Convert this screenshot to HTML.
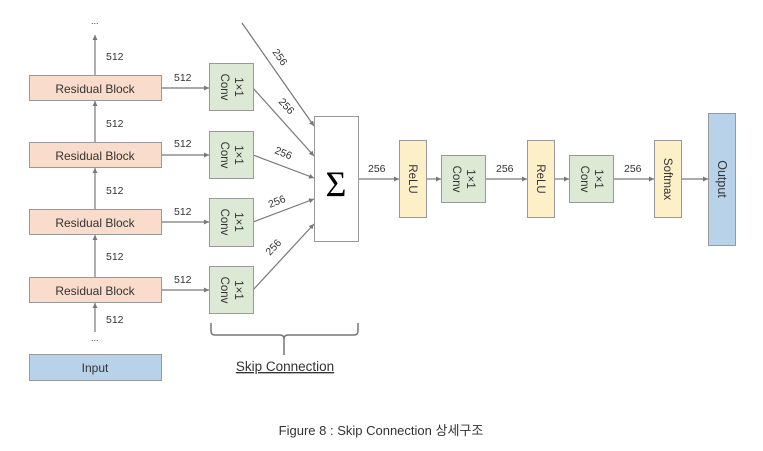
<!DOCTYPE html>
<html><head><meta charset="utf-8"><style>
html,body{margin:0;padding:0;background:#fff;width:763px;height:451px;overflow:hidden}
svg text{font-family:"Liberation Sans","Noto Sans CJK KR",sans-serif;fill:#333}
</style></head><body>
<svg width="763" height="451" viewBox="0 0 763 451" xmlns="http://www.w3.org/2000/svg">
<defs><marker id="a" markerWidth="6" markerHeight="6" refX="5" refY="3" orient="auto" markerUnits="userSpaceOnUse"><path d="M0,0.5 L5,3 L0,5.5z" fill="#777"/></marker></defs>
<g stroke="#777" stroke-width="1.2" fill="none">
<line x1="95" y1="75" x2="95" y2="35" marker-end="url(#a)"/>
<line x1="95" y1="142" x2="95" y2="101" marker-end="url(#a)"/>
<line x1="95" y1="209" x2="95" y2="168" marker-end="url(#a)"/>
<line x1="95" y1="277" x2="95" y2="235" marker-end="url(#a)"/>
<line x1="95" y1="332" x2="95" y2="303" marker-end="url(#a)"/>
<line x1="161" y1="88" x2="209" y2="88" marker-end="url(#a)"/>
<line x1="161" y1="155" x2="209" y2="155" marker-end="url(#a)"/>
<line x1="161" y1="222" x2="209" y2="222" marker-end="url(#a)"/>
<line x1="161" y1="290" x2="209" y2="290" marker-end="url(#a)"/>
<line x1="242" y1="23" x2="314" y2="126" marker-end="url(#a)"/>
<line x1="253" y1="88" x2="314" y2="156" marker-end="url(#a)"/>
<line x1="253" y1="155" x2="314" y2="178" marker-end="url(#a)"/>
<line x1="253" y1="222" x2="314" y2="199" marker-end="url(#a)"/>
<line x1="253" y1="290" x2="314" y2="224" marker-end="url(#a)"/>
<line x1="358" y1="179" x2="399" y2="179" marker-end="url(#a)"/>
<line x1="426" y1="179" x2="441" y2="179" marker-end="url(#a)"/>
<line x1="485" y1="179" x2="527" y2="179" marker-end="url(#a)"/>
<line x1="554" y1="179" x2="569" y2="179" marker-end="url(#a)"/>
<line x1="613" y1="179" x2="654" y2="179" marker-end="url(#a)"/>
<line x1="681" y1="179" x2="708" y2="179" marker-end="url(#a)"/>
<path d="M211,323 v8 q0,4 4,4 h65 q4,0 4,4 v16 M284,339 q0,-4 4,-4 h66 q4,0 4,-4 v-8" stroke-width="1.5"/>
</g>
<g stroke="#999" stroke-width="1">
<rect x="29.5" y="75.5" width="132" height="25" fill="#f9dccb"/>
<rect x="29.5" y="142.5" width="132" height="25" fill="#f9dccb"/>
<rect x="29.5" y="209.5" width="132" height="25" fill="#f9dccb"/>
<rect x="29.5" y="277.5" width="132" height="25" fill="#f9dccb"/>
<rect x="29.5" y="354.5" width="132" height="26" fill="#b8d2ea"/>
<rect x="209.5" y="63.5" width="44" height="47" fill="#dce9d5"/>
<rect x="209.5" y="131.5" width="44" height="47" fill="#dce9d5"/>
<rect x="209.5" y="198.5" width="44" height="48" fill="#dce9d5"/>
<rect x="209.5" y="266.5" width="44" height="47" fill="#dce9d5"/>
<rect x="314.5" y="116.5" width="44" height="125" fill="#fff"/>
<rect x="399.5" y="140.5" width="27" height="77" fill="#fdf0c9"/>
<rect x="441.5" y="155.5" width="44" height="47" fill="#dce9d5"/>
<rect x="527.5" y="140.5" width="27" height="77" fill="#fdf0c9"/>
<rect x="569.5" y="155.5" width="44" height="47" fill="#dce9d5"/>
<rect x="654.5" y="140.5" width="27" height="77" fill="#fdf0c9"/>
<rect x="708.5" y="113.5" width="27" height="132" fill="#b8d2ea"/>
</g>
<g font-size="12" text-anchor="middle">
<text x="95" y="93">Residual Block</text>
<text x="95" y="160">Residual Block</text>
<text x="95" y="227">Residual Block</text>
<text x="95" y="295">Residual Block</text>
<text x="95" y="372">Input</text>
</g>
<g font-size="10.5">
<text x="106" y="60">512</text><text x="106" y="127">512</text><text x="106" y="194">512</text><text x="106" y="260">512</text><text x="106" y="323">512</text>
<text x="174" y="81">512</text><text x="174" y="147">512</text><text x="174" y="215">512</text><text x="174" y="283">512</text>
<text x="368" y="172">256</text><text x="496" y="172">256</text><text x="624" y="172">256</text>
<text x="91" y="24" font-size="9">...</text><text x="91" y="341" font-size="9">...</text>
<text transform="translate(272,52) rotate(55)">256</text>
<text transform="translate(278,102) rotate(48)">256</text>
<text transform="translate(274,153) rotate(22)">256</text>
<text transform="translate(270,208) rotate(-22)">256</text>
<text transform="translate(270,256) rotate(-47)">256</text>
</g>
<g font-size="11.5" text-anchor="middle">
<g transform="translate(231,87) rotate(90)"><text y="-4">1×1</text><text y="10">Conv</text></g>
<g transform="translate(231,155) rotate(90)"><text y="-4">1×1</text><text y="10">Conv</text></g>
<g transform="translate(231,222) rotate(90)"><text y="-4">1×1</text><text y="10">Conv</text></g>
<g transform="translate(231,290) rotate(90)"><text y="-4">1×1</text><text y="10">Conv</text></g>
<g transform="translate(463,179) rotate(90)"><text y="-4">1×1</text><text y="10">Conv</text></g>
<g transform="translate(591,179) rotate(90)"><text y="-4">1×1</text><text y="10">Conv</text></g>
<g transform="translate(413,179) rotate(90)"><text y="4">ReLU</text></g>
<g transform="translate(541,179) rotate(90)"><text y="4">ReLU</text></g>
<g transform="translate(668,179) rotate(90)"><text y="4">Softmax</text></g>
<g transform="translate(722,179) rotate(90)"><text y="4" font-size="12.5">Output</text></g>
</g>
<text x="336" y="196" font-size="36" text-anchor="middle" style="font-family:'Liberation Serif',serif;fill:#000">Σ</text>
<text x="285" y="371" font-size="13.5" text-anchor="middle" text-decoration="underline">Skip Connection</text>
<text x="381" y="435" font-size="13" text-anchor="middle">Figure 8 : Skip Connection 상세구조</text>
</svg>
</body></html>
